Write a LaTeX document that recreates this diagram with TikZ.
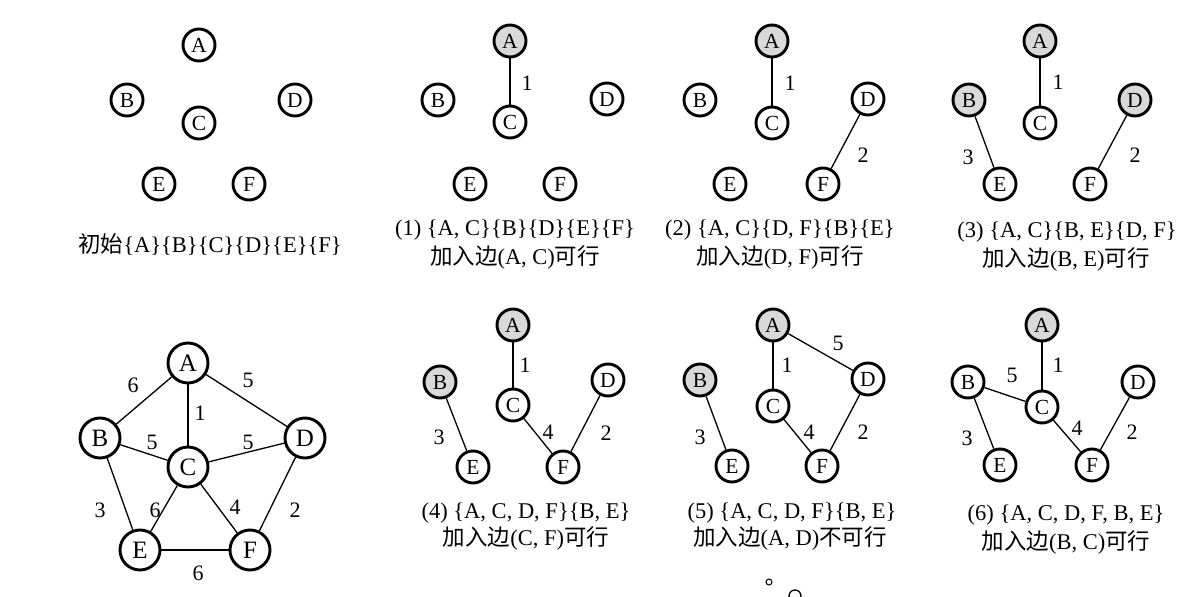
\documentclass[tikz,border=0pt]{standalone}
\usepackage{fontspec}
\setmainfont{Liberation Serif}
\newfontfamily\cjk{Noto Sans CJK SC}
\definecolor{vertexgray}{RGB}{217,217,217}
\usepackage{tikz}

\begin{document}
\begin{tikzpicture}[x=1pt,y=-1pt,
  vtx/.style={circle,draw=black,line width=2.9pt,inner sep=0pt,minimum size=32pt,font=\fontsize{21.5}{21.5}\selectfont},
  bigvtx/.style={vtx,minimum size=40pt,font=\fontsize{25}{25}\selectfont},
  done/.style={fill=vertexgray},
  edge/.style={line width=1.3pt},
  wt/.style={font=\fontsize{22}{22}\selectfont},
  captext/.style={font=\fontsize{22.5}{22.5}\selectfont,inner sep=0pt}]
  \useasboundingbox (0,0) rectangle (1179,597);

  % initial forest
  \node[vtx] (A0) at (199,45) {A};
  \node[vtx] (B0) at (127,100) {B};
  \node[vtx] (D0) at (295,100) {D};
  \node[vtx] (C0) at (199,123) {C};
  \node[vtx] (E0) at (159,184) {E};
  \node[vtx] (F0) at (249,184) {F};
  \node[captext] at (210,245) {{\cjk 初始}\{A\}\{B\}\{C\}\{D\}\{E\}\{F\}};

  % step 1
  \node[vtx,done] (A1) at (510,41) {A};
  \node[vtx] (B1) at (438,100) {B};
  \node[vtx] (D1) at (607,99) {D};
  \node[vtx] (C1) at (510,122) {C};
  \node[vtx] (E1) at (470,184) {E};
  \node[vtx] (F1) at (560,184) {F};
  \draw[edge] (A1) -- (C1);
  \node[wt] at (527,83) {1};
  \node[captext] at (515,230) {(1) \{A, C\}\{B\}\{D\}\{E\}\{F\}};
  \node[captext] at (515,257) {{\cjk 加入边}(A, C){\cjk 可行}};

  % step 2
  \node[vtx,done] (A2) at (772,41) {A};
  \node[vtx] (B2) at (700,100) {B};
  \node[vtx] (D2) at (868,99) {D};
  \node[vtx] (C2) at (772,123) {C};
  \node[vtx] (E2) at (730,184) {E};
  \node[vtx] (F2) at (823,184) {F};
  \draw[edge] (A2) -- (C2);
  \draw[edge] (D2) -- (F2);
  \node[wt] at (790,83) {1};
  \node[wt] at (863,155) {2};
  \node[captext] at (780,230) {(2) \{A, C\}\{D, F\}\{B\}\{E\}};
  \node[captext] at (780,257) {{\cjk 加入边}(D, F){\cjk 可行}};

  % step 3
  \node[vtx,done] (A3) at (1040,41) {A};
  \node[vtx,done] (B3) at (969,100) {B};
  \node[vtx,done] (D3) at (1135,100) {D};
  \node[vtx] (C3) at (1040,123) {C};
  \node[vtx] (E3) at (1000,184) {E};
  \node[vtx] (F3) at (1090,184) {F};
  \draw[edge] (A3) -- (C3);
  \draw[edge] (B3) -- (E3);
  \draw[edge] (D3) -- (F3);
  \node[wt] at (1058,82) {1};
  \node[wt] at (968,157) {3};
  \node[wt] at (1135,155) {2};
  \node[captext] at (1067,232) {(3) \{A, C\}\{B, E\}\{D, F\}};
  \node[captext] at (1066,259) {{\cjk 加入边}(B, E){\cjk 可行}};

  % full graph
  \node[bigvtx] (Ag) at (188,363) {A};
  \node[bigvtx] (Bg) at (100,438) {B};
  \node[bigvtx] (Dg) at (305,438) {D};
  \node[bigvtx] (Cg) at (188,467) {C};
  \node[bigvtx] (Eg) at (140,550) {E};
  \node[bigvtx] (Fg) at (250,550) {F};
  \draw[edge] (Ag) -- (Bg);
  \draw[edge] (Ag) -- (Dg);
  \draw[edge] (Ag) -- (Cg);
  \draw[edge] (Bg) -- (Cg);
  \draw[edge] (Cg) -- (Dg);
  \draw[edge] (Bg) -- (Eg);
  \draw[edge] (Cg) -- (Eg);
  \draw[edge] (Cg) -- (Fg);
  \draw[edge] (Dg) -- (Fg);
  \draw[edge] (Eg) -- (Fg);
  \node[wt] at (133,385) {6};
  \node[wt] at (248,380) {5};
  \node[wt] at (200,413) {1};
  \node[wt] at (152,442) {5};
  \node[wt] at (248,442) {5};
  \node[wt] at (100,510) {3};
  \node[wt] at (155,510) {6};
  \node[wt] at (235,507) {4};
  \node[wt] at (295,510) {2};
  \node[wt] at (198,573) {6};

  % step 4
  \node[vtx,done] (A4) at (513,325) {A};
  \node[vtx,done] (B4) at (440,382) {B};
  \node[vtx] (D4) at (608,380) {D};
  \node[vtx] (C4) at (513,405) {C};
  \node[vtx] (E4) at (473,467) {E};
  \node[vtx] (F4) at (563,467) {F};
  \draw[edge] (A4) -- (C4);
  \draw[edge] (B4) -- (E4);
  \draw[edge] (C4) -- (F4);
  \draw[edge] (D4) -- (F4);
  \node[wt] at (525,365) {1};
  \node[wt] at (439,437) {3};
  \node[wt] at (548,432) {4};
  \node[wt] at (606,433) {2};
  \node[captext] at (526,513) {(4) \{A, C, D, F\}\{B, E\}};
  \node[captext] at (526,538) {{\cjk 加入边}(C, F){\cjk 可行}};

  % step 5
  \node[vtx,done] (A5) at (773,325) {A};
  \node[vtx,done] (B5) at (700,380) {B};
  \node[vtx] (D5) at (868,379) {D};
  \node[vtx] (C5) at (773,406) {C};
  \node[vtx] (E5) at (732,466) {E};
  \node[vtx] (F5) at (822,466) {F};
  \draw[edge] (A5) -- (C5);
  \draw[edge] (A5) -- (D5);
  \draw[edge] (B5) -- (E5);
  \draw[edge] (C5) -- (F5);
  \draw[edge] (D5) -- (F5);
  \node[wt] at (838,343) {5};
  \node[wt] at (787,365) {1};
  \node[wt] at (700,437) {3};
  \node[wt] at (809,432) {4};
  \node[wt] at (863,432) {2};
  \node[captext] at (792,513) {(5) \{A, C, D, F\}\{B, E\}};
  \node[captext] at (790,538) {{\cjk 加入边}(A, D){\cjk 不可行}};

  % step 6
  \node[vtx,done] (A6) at (1042,325) {A};
  \node[vtx] (B6) at (968,382) {B};
  \node[vtx] (D6) at (1138,382) {D};
  \node[vtx] (C6) at (1042,407) {C};
  \node[vtx] (E6) at (1000,465) {E};
  \node[vtx] (F6) at (1092,465) {F};
  \draw[edge] (A6) -- (C6);
  \draw[edge] (B6) -- (C6);
  \draw[edge] (B6) -- (E6);
  \draw[edge] (C6) -- (F6);
  \draw[edge] (D6) -- (F6);
  \node[wt] at (1058,365) {1};
  \node[wt] at (1012,375) {5};
  \node[wt] at (967,438) {3};
  \node[wt] at (1077,428) {4};
  \node[wt] at (1132,432) {2};
  \node[captext] at (1066,515) {(6) \{A, C, D, F, B, E\}};
  \node[captext] at (1066,542) {{\cjk 加入边}(B, C){\cjk 可行}};

  % clipped marks at the bottom edge
  \draw[line width=1pt] (769,582) circle (3);
  \draw[line width=1.3pt] (795,596) circle (6);
\end{tikzpicture}
\end{document}
